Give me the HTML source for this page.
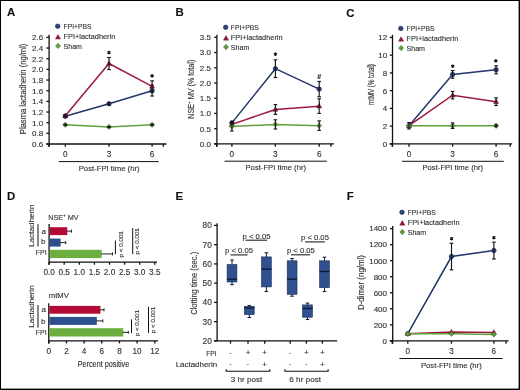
<!DOCTYPE html>
<html><head><meta charset="utf-8"><style>
html,body{margin:0;padding:0;background:#fff;}
svg{display:block;font-family:"Liberation Sans", sans-serif;}

.g{will-change:transform;}
</style></head><body>
<div class="g"><svg width="520" height="390" viewBox="0 0 520 390">
<rect x="0" y="0" width="520" height="390" fill="#fff"/>
<text x="7.00" y="16.30" font-size="11.4" text-anchor="start" font-weight="bold" fill="#111" stroke="#111" stroke-width="0.12" >A</text>
<text x="175.60" y="16.30" font-size="11.4" text-anchor="start" font-weight="bold" fill="#111" stroke="#111" stroke-width="0.12" >B</text>
<text x="346.30" y="16.50" font-size="11.4" text-anchor="start" font-weight="bold" fill="#111" stroke="#111" stroke-width="0.12" >C</text>
<text x="7.00" y="200.20" font-size="11.4" text-anchor="start" font-weight="bold" fill="#111" stroke="#111" stroke-width="0.12" >D</text>
<text x="175.50" y="200.20" font-size="11.4" text-anchor="start" font-weight="bold" fill="#111" stroke="#111" stroke-width="0.12" >E</text>
<text x="346.80" y="200.20" font-size="11.4" text-anchor="start" font-weight="bold" fill="#111" stroke="#111" stroke-width="0.12" >F</text>
<circle cx="57.70" cy="26.20" r="2.25" fill="#2c4584" stroke="#151d3a" stroke-width="0.6"/>
<path d="M58.00 34.44L60.55 39.04L55.45 39.04Z" fill="#9c1638" stroke="#4e0a1c" stroke-width="0.4"/>
<path d="M58.00 43.20L60.50 45.90L58.00 48.60L55.50 45.90Z" fill="#5e9e3a" stroke="#3a6428" stroke-width="0.5"/>
<text x="63.50" y="28.95" font-size="7.6" text-anchor="start" font-weight="normal" fill="#303030" stroke="#303030" stroke-width="0.12" textLength="28.00" lengthAdjust="spacingAndGlyphs" >FPI+PBS</text>
<text x="63.50" y="38.95" font-size="7.6" text-anchor="start" font-weight="normal" fill="#303030" stroke="#303030" stroke-width="0.12" textLength="51.80" lengthAdjust="spacingAndGlyphs" >FPI+lactadherin</text>
<text x="63.50" y="48.95" font-size="7.6" text-anchor="start" font-weight="normal" fill="#303030" stroke="#303030" stroke-width="0.12" textLength="18.50" lengthAdjust="spacingAndGlyphs" >Sham</text>
<line x1="49.10" y1="34.80" x2="49.10" y2="146.80" stroke="#111111" stroke-width="1.3" />
<line x1="46.30" y1="144.00" x2="166.50" y2="144.00" stroke="#111111" stroke-width="1.3" />
<line x1="46.40" y1="144.00" x2="49.10" y2="144.00" stroke="#111111" stroke-width="1.3" />
<text x="43.20" y="146.85" font-size="8.0" text-anchor="end" font-weight="normal" fill="#303030" stroke="#303030" stroke-width="0.12" >0.6</text>
<line x1="46.40" y1="133.34" x2="49.10" y2="133.34" stroke="#111111" stroke-width="1.3" />
<text x="43.20" y="136.19" font-size="8.0" text-anchor="end" font-weight="normal" fill="#303030" stroke="#303030" stroke-width="0.12" >0.8</text>
<line x1="46.40" y1="122.68" x2="49.10" y2="122.68" stroke="#111111" stroke-width="1.3" />
<text x="43.20" y="125.53" font-size="8.0" text-anchor="end" font-weight="normal" fill="#303030" stroke="#303030" stroke-width="0.12" >1.0</text>
<line x1="46.40" y1="112.02" x2="49.10" y2="112.02" stroke="#111111" stroke-width="1.3" />
<text x="43.20" y="114.87" font-size="8.0" text-anchor="end" font-weight="normal" fill="#303030" stroke="#303030" stroke-width="0.12" >1.2</text>
<line x1="46.40" y1="101.36" x2="49.10" y2="101.36" stroke="#111111" stroke-width="1.3" />
<text x="43.20" y="104.21" font-size="8.0" text-anchor="end" font-weight="normal" fill="#303030" stroke="#303030" stroke-width="0.12" >1.4</text>
<line x1="46.40" y1="90.70" x2="49.10" y2="90.70" stroke="#111111" stroke-width="1.3" />
<text x="43.20" y="93.55" font-size="8.0" text-anchor="end" font-weight="normal" fill="#303030" stroke="#303030" stroke-width="0.12" >1.6</text>
<line x1="46.40" y1="80.04" x2="49.10" y2="80.04" stroke="#111111" stroke-width="1.3" />
<text x="43.20" y="82.89" font-size="8.0" text-anchor="end" font-weight="normal" fill="#303030" stroke="#303030" stroke-width="0.12" >1.8</text>
<line x1="46.40" y1="69.38" x2="49.10" y2="69.38" stroke="#111111" stroke-width="1.3" />
<text x="43.20" y="72.23" font-size="8.0" text-anchor="end" font-weight="normal" fill="#303030" stroke="#303030" stroke-width="0.12" >2.0</text>
<line x1="46.40" y1="58.72" x2="49.10" y2="58.72" stroke="#111111" stroke-width="1.3" />
<text x="43.20" y="61.57" font-size="8.0" text-anchor="end" font-weight="normal" fill="#303030" stroke="#303030" stroke-width="0.12" >2.2</text>
<line x1="46.40" y1="48.06" x2="49.10" y2="48.06" stroke="#111111" stroke-width="1.3" />
<text x="43.20" y="50.91" font-size="8.0" text-anchor="end" font-weight="normal" fill="#303030" stroke="#303030" stroke-width="0.12" >2.4</text>
<line x1="46.40" y1="37.40" x2="49.10" y2="37.40" stroke="#111111" stroke-width="1.3" />
<text x="43.20" y="40.25" font-size="8.0" text-anchor="end" font-weight="normal" fill="#303030" stroke="#303030" stroke-width="0.12" >2.6</text>
<line x1="49.00" y1="144.00" x2="49.00" y2="146.80" stroke="#111111" stroke-width="1.3" />
<line x1="65.30" y1="144.00" x2="65.30" y2="146.80" stroke="#111111" stroke-width="1.3" />
<line x1="109.00" y1="144.00" x2="109.00" y2="146.80" stroke="#111111" stroke-width="1.3" />
<line x1="152.10" y1="144.00" x2="152.10" y2="146.80" stroke="#111111" stroke-width="1.3" />
<line x1="163.30" y1="144.00" x2="163.30" y2="146.80" stroke="#111111" stroke-width="1.3" />
<text x="65.30" y="157.10" font-size="8.2" text-anchor="middle" font-weight="normal" fill="#303030" stroke="#303030" stroke-width="0.12" >0</text>
<text x="109.00" y="157.10" font-size="8.2" text-anchor="middle" font-weight="normal" fill="#303030" stroke="#303030" stroke-width="0.12" >3</text>
<text x="152.10" y="157.10" font-size="8.2" text-anchor="middle" font-weight="normal" fill="#303030" stroke="#303030" stroke-width="0.12" >6</text>
<line x1="58.80" y1="161.60" x2="158.70" y2="161.60" stroke="#111111" stroke-width="1.0" />
<text x="78.70" y="170.70" font-size="8.1" text-anchor="start" font-weight="normal" fill="#303030" stroke="#303030" stroke-width="0.12" textLength="60.90" lengthAdjust="spacingAndGlyphs" >Post-FPI time (hr)</text>
<text transform="translate(25.80,88.90) rotate(-90)" x="0" y="0" font-size="8.4" text-anchor="middle" fill="#303030" stroke="#303030" stroke-width="0.12" textLength="90.50" lengthAdjust="spacingAndGlyphs">Plasma lactadherin (ng/ml)</text>
<polyline points="65.30,116.28 109.00,103.76 152.10,90.70" fill="none" stroke="#22366a" stroke-width="1.5"/>
<polyline points="65.30,115.75 109.00,63.52 152.10,86.44" fill="none" stroke="#9a1a3e" stroke-width="1.5"/>
<polyline points="65.30,124.81 109.00,126.94 152.10,124.81" fill="none" stroke="#62a03c" stroke-width="1.5"/>
<circle cx="65.30" cy="116.28" r="2.25" fill="#2c4584" stroke="#151d3a" stroke-width="0.6"/>
<circle cx="109.00" cy="103.76" r="2.25" fill="#2c4584" stroke="#151d3a" stroke-width="0.6"/>
<circle cx="152.10" cy="90.70" r="2.25" fill="#2c4584" stroke="#151d3a" stroke-width="0.6"/>
<line x1="65.30" y1="115.22" x2="65.30" y2="117.35" stroke="#161616" stroke-width="1.15" />
<line x1="63.50" y1="115.22" x2="67.10" y2="115.22" stroke="#161616" stroke-width="1.15" />
<line x1="63.50" y1="117.35" x2="67.10" y2="117.35" stroke="#161616" stroke-width="1.15" />
<line x1="109.00" y1="102.69" x2="109.00" y2="104.82" stroke="#161616" stroke-width="1.15" />
<line x1="107.20" y1="102.69" x2="110.80" y2="102.69" stroke="#161616" stroke-width="1.15" />
<line x1="107.20" y1="104.82" x2="110.80" y2="104.82" stroke="#161616" stroke-width="1.15" />
<line x1="152.10" y1="85.37" x2="152.10" y2="96.03" stroke="#161616" stroke-width="1.15" />
<line x1="150.30" y1="85.37" x2="153.90" y2="85.37" stroke="#161616" stroke-width="1.15" />
<line x1="150.30" y1="96.03" x2="153.90" y2="96.03" stroke="#161616" stroke-width="1.15" />
<path d="M65.30 112.99L67.85 117.59L62.75 117.59Z" fill="#9c1638" stroke="#4e0a1c" stroke-width="0.4"/>
<path d="M109.00 60.76L111.55 65.36L106.45 65.36Z" fill="#9c1638" stroke="#4e0a1c" stroke-width="0.4"/>
<path d="M152.10 83.68L154.65 88.28L149.55 88.28Z" fill="#9c1638" stroke="#4e0a1c" stroke-width="0.4"/>
<line x1="65.30" y1="114.69" x2="65.30" y2="116.82" stroke="#161616" stroke-width="1.15" />
<line x1="63.50" y1="114.69" x2="67.10" y2="114.69" stroke="#161616" stroke-width="1.15" />
<line x1="63.50" y1="116.82" x2="67.10" y2="116.82" stroke="#161616" stroke-width="1.15" />
<line x1="109.00" y1="57.49" x2="109.00" y2="69.54" stroke="#161616" stroke-width="1.15" />
<line x1="107.20" y1="57.49" x2="110.80" y2="57.49" stroke="#161616" stroke-width="1.15" />
<line x1="107.20" y1="69.54" x2="110.80" y2="69.54" stroke="#161616" stroke-width="1.15" />
<line x1="152.10" y1="80.84" x2="152.10" y2="92.03" stroke="#161616" stroke-width="1.15" />
<line x1="150.30" y1="80.84" x2="153.90" y2="80.84" stroke="#161616" stroke-width="1.15" />
<line x1="150.30" y1="92.03" x2="153.90" y2="92.03" stroke="#161616" stroke-width="1.15" />
<path d="M65.30 122.11L67.80 124.81L65.30 127.51L62.80 124.81Z" fill="#5e9e3a" stroke="#3a6428" stroke-width="0.5"/>
<path d="M109.00 124.24L111.50 126.94L109.00 129.64L106.50 126.94Z" fill="#5e9e3a" stroke="#3a6428" stroke-width="0.5"/>
<path d="M152.10 122.11L154.60 124.81L152.10 127.51L149.60 124.81Z" fill="#5e9e3a" stroke="#3a6428" stroke-width="0.5"/>
<line x1="65.30" y1="124.28" x2="65.30" y2="125.34" stroke="#161616" stroke-width="1.15" />
<line x1="63.50" y1="124.28" x2="67.10" y2="124.28" stroke="#161616" stroke-width="1.15" />
<line x1="63.50" y1="125.34" x2="67.10" y2="125.34" stroke="#161616" stroke-width="1.15" />
<line x1="109.00" y1="126.41" x2="109.00" y2="127.48" stroke="#161616" stroke-width="1.15" />
<line x1="107.20" y1="126.41" x2="110.80" y2="126.41" stroke="#161616" stroke-width="1.15" />
<line x1="107.20" y1="127.48" x2="110.80" y2="127.48" stroke="#161616" stroke-width="1.15" />
<line x1="152.10" y1="124.28" x2="152.10" y2="125.34" stroke="#161616" stroke-width="1.15" />
<line x1="150.30" y1="124.28" x2="153.90" y2="124.28" stroke="#161616" stroke-width="1.15" />
<line x1="150.30" y1="125.34" x2="153.90" y2="125.34" stroke="#161616" stroke-width="1.15" />
<path d="M109.00 50.70L109.00 54.30M110.56 51.60L107.44 53.40M110.56 53.40L107.44 51.60" stroke="#151515" stroke-width="1.15" fill="none"/>
<path d="M152.10 74.10L152.10 77.70M153.66 75.00L150.54 76.80M153.66 76.80L150.54 75.00" stroke="#151515" stroke-width="1.15" fill="none"/>
<circle cx="225.70" cy="27.30" r="2.25" fill="#2c4584" stroke="#151d3a" stroke-width="0.6"/>
<path d="M226.00 35.54L228.55 40.14L223.45 40.14Z" fill="#9c1638" stroke="#4e0a1c" stroke-width="0.4"/>
<path d="M226.00 44.30L228.50 47.00L226.00 49.70L223.50 47.00Z" fill="#5e9e3a" stroke="#3a6428" stroke-width="0.5"/>
<text x="230.80" y="30.05" font-size="7.6" text-anchor="start" font-weight="normal" fill="#303030" stroke="#303030" stroke-width="0.12" textLength="28.00" lengthAdjust="spacingAndGlyphs" >FPI+PBS</text>
<text x="230.80" y="40.05" font-size="7.6" text-anchor="start" font-weight="normal" fill="#303030" stroke="#303030" stroke-width="0.12" textLength="51.80" lengthAdjust="spacingAndGlyphs" >FPI+lactadherin</text>
<text x="230.80" y="50.05" font-size="7.6" text-anchor="start" font-weight="normal" fill="#303030" stroke="#303030" stroke-width="0.12" textLength="18.50" lengthAdjust="spacingAndGlyphs" >Sham</text>
<line x1="216.90" y1="34.70" x2="216.90" y2="146.70" stroke="#111111" stroke-width="1.3" />
<line x1="214.10" y1="143.90" x2="333.90" y2="143.90" stroke="#111111" stroke-width="1.3" />
<line x1="214.20" y1="143.90" x2="216.90" y2="143.90" stroke="#111111" stroke-width="1.3" />
<text x="210.90" y="146.75" font-size="8.0" text-anchor="end" font-weight="normal" fill="#303030" stroke="#303030" stroke-width="0.12" >0.0</text>
<line x1="214.20" y1="128.67" x2="216.90" y2="128.67" stroke="#111111" stroke-width="1.3" />
<text x="210.90" y="131.52" font-size="8.0" text-anchor="end" font-weight="normal" fill="#303030" stroke="#303030" stroke-width="0.12" >0.5</text>
<line x1="214.20" y1="113.44" x2="216.90" y2="113.44" stroke="#111111" stroke-width="1.3" />
<text x="210.90" y="116.29" font-size="8.0" text-anchor="end" font-weight="normal" fill="#303030" stroke="#303030" stroke-width="0.12" >1.0</text>
<line x1="214.20" y1="98.21" x2="216.90" y2="98.21" stroke="#111111" stroke-width="1.3" />
<text x="210.90" y="101.06" font-size="8.0" text-anchor="end" font-weight="normal" fill="#303030" stroke="#303030" stroke-width="0.12" >1.5</text>
<line x1="214.20" y1="82.99" x2="216.90" y2="82.99" stroke="#111111" stroke-width="1.3" />
<text x="210.90" y="85.84" font-size="8.0" text-anchor="end" font-weight="normal" fill="#303030" stroke="#303030" stroke-width="0.12" >2.0</text>
<line x1="214.20" y1="67.76" x2="216.90" y2="67.76" stroke="#111111" stroke-width="1.3" />
<text x="210.90" y="70.61" font-size="8.0" text-anchor="end" font-weight="normal" fill="#303030" stroke="#303030" stroke-width="0.12" >2.5</text>
<line x1="214.20" y1="52.53" x2="216.90" y2="52.53" stroke="#111111" stroke-width="1.3" />
<text x="210.90" y="55.38" font-size="8.0" text-anchor="end" font-weight="normal" fill="#303030" stroke="#303030" stroke-width="0.12" >3.0</text>
<line x1="214.20" y1="37.30" x2="216.90" y2="37.30" stroke="#111111" stroke-width="1.3" />
<text x="210.90" y="40.15" font-size="8.0" text-anchor="end" font-weight="normal" fill="#303030" stroke="#303030" stroke-width="0.12" >3.5</text>
<line x1="216.80" y1="143.90" x2="216.80" y2="146.70" stroke="#111111" stroke-width="1.3" />
<line x1="231.90" y1="143.90" x2="231.90" y2="146.70" stroke="#111111" stroke-width="1.3" />
<line x1="275.40" y1="143.90" x2="275.40" y2="146.70" stroke="#111111" stroke-width="1.3" />
<line x1="319.20" y1="143.90" x2="319.20" y2="146.70" stroke="#111111" stroke-width="1.3" />
<line x1="331.00" y1="143.90" x2="331.00" y2="146.70" stroke="#111111" stroke-width="1.3" />
<text x="231.90" y="157.00" font-size="8.2" text-anchor="middle" font-weight="normal" fill="#303030" stroke="#303030" stroke-width="0.12" >0</text>
<text x="275.40" y="157.00" font-size="8.2" text-anchor="middle" font-weight="normal" fill="#303030" stroke="#303030" stroke-width="0.12" >3</text>
<text x="319.20" y="157.00" font-size="8.2" text-anchor="middle" font-weight="normal" fill="#303030" stroke="#303030" stroke-width="0.12" >6</text>
<line x1="224.50" y1="161.20" x2="326.90" y2="161.20" stroke="#111111" stroke-width="1.0" />
<text x="245.50" y="170.30" font-size="8.1" text-anchor="start" font-weight="normal" fill="#303030" stroke="#303030" stroke-width="0.12" textLength="60.50" lengthAdjust="spacingAndGlyphs" >Post-FPI time (hr)</text>
<text transform="translate(193.90,89.20) rotate(-90)" x="0" y="0" font-size="8.5" text-anchor="middle" fill="#303030" stroke="#303030" stroke-width="0.12" textLength="59.00" lengthAdjust="spacingAndGlyphs">NSE<tspan font-size="5.5" dy="-2.7">+</tspan><tspan dy="2.7"> MV (% total)</tspan></text>
<polyline points="231.90,122.88 275.40,68.67 319.20,89.08" fill="none" stroke="#22366a" stroke-width="1.5"/>
<polyline points="231.90,124.41 275.40,109.48 319.20,106.13" fill="none" stroke="#9a1a3e" stroke-width="1.5"/>
<polyline points="231.90,126.54 275.40,124.41 319.20,125.63" fill="none" stroke="#62a03c" stroke-width="1.5"/>
<circle cx="231.90" cy="122.88" r="2.25" fill="#2c4584" stroke="#151d3a" stroke-width="0.6"/>
<circle cx="275.40" cy="68.67" r="2.25" fill="#2c4584" stroke="#151d3a" stroke-width="0.6"/>
<circle cx="319.20" cy="89.08" r="2.25" fill="#2c4584" stroke="#151d3a" stroke-width="0.6"/>
<line x1="231.90" y1="121.36" x2="231.90" y2="124.41" stroke="#161616" stroke-width="1.15" />
<line x1="230.10" y1="121.36" x2="233.70" y2="121.36" stroke="#161616" stroke-width="1.15" />
<line x1="230.10" y1="124.41" x2="233.70" y2="124.41" stroke="#161616" stroke-width="1.15" />
<line x1="275.40" y1="59.84" x2="275.40" y2="77.50" stroke="#161616" stroke-width="1.15" />
<line x1="273.60" y1="59.84" x2="277.20" y2="59.84" stroke="#161616" stroke-width="1.15" />
<line x1="273.60" y1="77.50" x2="277.20" y2="77.50" stroke="#161616" stroke-width="1.15" />
<line x1="319.20" y1="81.46" x2="319.20" y2="96.69" stroke="#161616" stroke-width="1.15" />
<line x1="317.40" y1="81.46" x2="321.00" y2="81.46" stroke="#161616" stroke-width="1.15" />
<line x1="317.40" y1="96.69" x2="321.00" y2="96.69" stroke="#161616" stroke-width="1.15" />
<path d="M231.90 121.65L234.45 126.25L229.35 126.25Z" fill="#9c1638" stroke="#4e0a1c" stroke-width="0.4"/>
<path d="M275.40 106.72L277.95 111.32L272.85 111.32Z" fill="#9c1638" stroke="#4e0a1c" stroke-width="0.4"/>
<path d="M319.20 103.37L321.75 107.97L316.65 107.97Z" fill="#9c1638" stroke="#4e0a1c" stroke-width="0.4"/>
<line x1="231.90" y1="122.88" x2="231.90" y2="125.93" stroke="#161616" stroke-width="1.15" />
<line x1="230.10" y1="122.88" x2="233.70" y2="122.88" stroke="#161616" stroke-width="1.15" />
<line x1="230.10" y1="125.93" x2="233.70" y2="125.93" stroke="#161616" stroke-width="1.15" />
<line x1="275.40" y1="104.61" x2="275.40" y2="114.36" stroke="#161616" stroke-width="1.15" />
<line x1="273.60" y1="104.61" x2="277.20" y2="104.61" stroke="#161616" stroke-width="1.15" />
<line x1="273.60" y1="114.36" x2="277.20" y2="114.36" stroke="#161616" stroke-width="1.15" />
<line x1="319.20" y1="98.82" x2="319.20" y2="113.44" stroke="#161616" stroke-width="1.15" />
<line x1="317.40" y1="98.82" x2="321.00" y2="98.82" stroke="#161616" stroke-width="1.15" />
<line x1="317.40" y1="113.44" x2="321.00" y2="113.44" stroke="#161616" stroke-width="1.15" />
<path d="M231.90 123.84L234.40 126.54L231.90 129.24L229.40 126.54Z" fill="#5e9e3a" stroke="#3a6428" stroke-width="0.5"/>
<path d="M275.40 121.71L277.90 124.41L275.40 127.11L272.90 124.41Z" fill="#5e9e3a" stroke="#3a6428" stroke-width="0.5"/>
<path d="M319.20 122.93L321.70 125.63L319.20 128.33L316.70 125.63Z" fill="#5e9e3a" stroke="#3a6428" stroke-width="0.5"/>
<line x1="231.90" y1="122.06" x2="231.90" y2="131.02" stroke="#161616" stroke-width="1.15" />
<line x1="230.10" y1="122.06" x2="233.70" y2="122.06" stroke="#161616" stroke-width="1.15" />
<line x1="230.10" y1="131.02" x2="233.70" y2="131.02" stroke="#161616" stroke-width="1.15" />
<line x1="275.40" y1="119.84" x2="275.40" y2="128.98" stroke="#161616" stroke-width="1.15" />
<line x1="273.60" y1="119.84" x2="277.20" y2="119.84" stroke="#161616" stroke-width="1.15" />
<line x1="273.60" y1="128.98" x2="277.20" y2="128.98" stroke="#161616" stroke-width="1.15" />
<line x1="319.20" y1="120.90" x2="319.20" y2="130.35" stroke="#161616" stroke-width="1.15" />
<line x1="317.40" y1="120.90" x2="321.00" y2="120.90" stroke="#161616" stroke-width="1.15" />
<line x1="317.40" y1="130.35" x2="321.00" y2="130.35" stroke="#161616" stroke-width="1.15" />
<path d="M275.40 52.40L275.40 56.00M276.96 53.30L273.84 55.10M276.96 55.10L273.84 53.30" stroke="#151515" stroke-width="1.15" fill="none"/>
<text x="319.20" y="78.60" font-size="7" text-anchor="middle" font-weight="bold" fill="#222" stroke="#222" stroke-width="0.12" >#</text>
<circle cx="400.80" cy="28.40" r="2.25" fill="#2c4584" stroke="#151d3a" stroke-width="0.6"/>
<path d="M401.10 36.64L403.65 41.24L398.55 41.24Z" fill="#9c1638" stroke="#4e0a1c" stroke-width="0.4"/>
<path d="M401.10 45.40L403.60 48.10L401.10 50.80L398.60 48.10Z" fill="#5e9e3a" stroke="#3a6428" stroke-width="0.5"/>
<text x="406.50" y="31.15" font-size="7.6" text-anchor="start" font-weight="normal" fill="#303030" stroke="#303030" stroke-width="0.12" textLength="28.00" lengthAdjust="spacingAndGlyphs" >FPI+PBS</text>
<text x="406.50" y="41.15" font-size="7.6" text-anchor="start" font-weight="normal" fill="#303030" stroke="#303030" stroke-width="0.12" textLength="51.80" lengthAdjust="spacingAndGlyphs" >FPI+lactadherin</text>
<text x="406.50" y="51.15" font-size="7.6" text-anchor="start" font-weight="normal" fill="#303030" stroke="#303030" stroke-width="0.12" textLength="18.50" lengthAdjust="spacingAndGlyphs" >Sham</text>
<line x1="392.50" y1="34.80" x2="392.50" y2="146.70" stroke="#111111" stroke-width="1.3" />
<line x1="389.60" y1="143.90" x2="512.20" y2="143.90" stroke="#111111" stroke-width="1.3" />
<line x1="389.80" y1="143.90" x2="392.50" y2="143.90" stroke="#111111" stroke-width="1.3" />
<text x="387.20" y="146.75" font-size="8.0" text-anchor="end" font-weight="normal" fill="#303030" stroke="#303030" stroke-width="0.12" >0</text>
<line x1="389.80" y1="126.15" x2="392.50" y2="126.15" stroke="#111111" stroke-width="1.3" />
<text x="387.20" y="129.00" font-size="8.0" text-anchor="end" font-weight="normal" fill="#303030" stroke="#303030" stroke-width="0.12" >2</text>
<line x1="389.80" y1="108.40" x2="392.50" y2="108.40" stroke="#111111" stroke-width="1.3" />
<text x="387.20" y="111.25" font-size="8.0" text-anchor="end" font-weight="normal" fill="#303030" stroke="#303030" stroke-width="0.12" >4</text>
<line x1="389.80" y1="90.65" x2="392.50" y2="90.65" stroke="#111111" stroke-width="1.3" />
<text x="387.20" y="93.50" font-size="8.0" text-anchor="end" font-weight="normal" fill="#303030" stroke="#303030" stroke-width="0.12" >6</text>
<line x1="389.80" y1="72.90" x2="392.50" y2="72.90" stroke="#111111" stroke-width="1.3" />
<text x="387.20" y="75.75" font-size="8.0" text-anchor="end" font-weight="normal" fill="#303030" stroke="#303030" stroke-width="0.12" >8</text>
<line x1="389.80" y1="55.15" x2="392.50" y2="55.15" stroke="#111111" stroke-width="1.3" />
<text x="387.20" y="58.00" font-size="8.0" text-anchor="end" font-weight="normal" fill="#303030" stroke="#303030" stroke-width="0.12" >10</text>
<line x1="389.80" y1="37.40" x2="392.50" y2="37.40" stroke="#111111" stroke-width="1.3" />
<text x="387.20" y="40.25" font-size="8.0" text-anchor="end" font-weight="normal" fill="#303030" stroke="#303030" stroke-width="0.12" >12</text>
<line x1="392.30" y1="143.90" x2="392.30" y2="146.70" stroke="#111111" stroke-width="1.3" />
<line x1="409.00" y1="143.90" x2="409.00" y2="146.70" stroke="#111111" stroke-width="1.3" />
<line x1="452.60" y1="143.90" x2="452.60" y2="146.70" stroke="#111111" stroke-width="1.3" />
<line x1="496.10" y1="143.90" x2="496.10" y2="146.70" stroke="#111111" stroke-width="1.3" />
<line x1="510.20" y1="143.90" x2="510.20" y2="146.70" stroke="#111111" stroke-width="1.3" />
<text x="409.00" y="157.00" font-size="8.2" text-anchor="middle" font-weight="normal" fill="#303030" stroke="#303030" stroke-width="0.12" >0</text>
<text x="452.60" y="157.00" font-size="8.2" text-anchor="middle" font-weight="normal" fill="#303030" stroke="#303030" stroke-width="0.12" >3</text>
<text x="496.10" y="157.00" font-size="8.2" text-anchor="middle" font-weight="normal" fill="#303030" stroke="#303030" stroke-width="0.12" >6</text>
<line x1="402.00" y1="161.30" x2="503.80" y2="161.30" stroke="#111111" stroke-width="1.0" />
<text x="422.40" y="170.40" font-size="8.1" text-anchor="start" font-weight="normal" fill="#303030" stroke="#303030" stroke-width="0.12" textLength="60.80" lengthAdjust="spacingAndGlyphs" >Post-FPI time (hr)</text>
<text transform="translate(374.40,84.60) rotate(-90)" x="0" y="0" font-size="8.4" text-anchor="middle" fill="#303030" stroke="#303030" stroke-width="0.12" textLength="40.80" lengthAdjust="spacingAndGlyphs">mtMV (% total)</text>
<polyline points="409.00,125.71 452.60,74.41 496.10,69.79" fill="none" stroke="#22366a" stroke-width="1.5"/>
<polyline points="409.00,125.71 452.60,95.18 496.10,101.66" fill="none" stroke="#9a1a3e" stroke-width="1.5"/>
<polyline points="409.00,125.71 452.60,125.71 496.10,125.71" fill="none" stroke="#62a03c" stroke-width="1.5"/>
<circle cx="409.00" cy="125.71" r="2.25" fill="#2c4584" stroke="#151d3a" stroke-width="0.6"/>
<circle cx="452.60" cy="74.41" r="2.25" fill="#2c4584" stroke="#151d3a" stroke-width="0.6"/>
<circle cx="496.10" cy="69.79" r="2.25" fill="#2c4584" stroke="#151d3a" stroke-width="0.6"/>
<line x1="409.00" y1="125.26" x2="409.00" y2="126.15" stroke="#161616" stroke-width="1.15" />
<line x1="407.20" y1="125.26" x2="410.80" y2="125.26" stroke="#161616" stroke-width="1.15" />
<line x1="407.20" y1="126.15" x2="410.80" y2="126.15" stroke="#161616" stroke-width="1.15" />
<line x1="452.60" y1="70.59" x2="452.60" y2="78.23" stroke="#161616" stroke-width="1.15" />
<line x1="450.80" y1="70.59" x2="454.40" y2="70.59" stroke="#161616" stroke-width="1.15" />
<line x1="450.80" y1="78.23" x2="454.40" y2="78.23" stroke="#161616" stroke-width="1.15" />
<line x1="496.10" y1="65.80" x2="496.10" y2="73.79" stroke="#161616" stroke-width="1.15" />
<line x1="494.30" y1="65.80" x2="497.90" y2="65.80" stroke="#161616" stroke-width="1.15" />
<line x1="494.30" y1="73.79" x2="497.90" y2="73.79" stroke="#161616" stroke-width="1.15" />
<path d="M409.00 122.95L411.55 127.55L406.45 127.55Z" fill="#9c1638" stroke="#4e0a1c" stroke-width="0.4"/>
<path d="M452.60 92.42L455.15 97.02L450.05 97.02Z" fill="#9c1638" stroke="#4e0a1c" stroke-width="0.4"/>
<path d="M496.10 98.89L498.65 103.50L493.55 103.50Z" fill="#9c1638" stroke="#4e0a1c" stroke-width="0.4"/>
<line x1="409.00" y1="125.26" x2="409.00" y2="126.15" stroke="#161616" stroke-width="1.15" />
<line x1="407.20" y1="125.26" x2="410.80" y2="125.26" stroke="#161616" stroke-width="1.15" />
<line x1="407.20" y1="126.15" x2="410.80" y2="126.15" stroke="#161616" stroke-width="1.15" />
<line x1="452.60" y1="91.45" x2="452.60" y2="98.90" stroke="#161616" stroke-width="1.15" />
<line x1="450.80" y1="91.45" x2="454.40" y2="91.45" stroke="#161616" stroke-width="1.15" />
<line x1="450.80" y1="98.90" x2="454.40" y2="98.90" stroke="#161616" stroke-width="1.15" />
<line x1="496.10" y1="97.84" x2="496.10" y2="105.47" stroke="#161616" stroke-width="1.15" />
<line x1="494.30" y1="97.84" x2="497.90" y2="97.84" stroke="#161616" stroke-width="1.15" />
<line x1="494.30" y1="105.47" x2="497.90" y2="105.47" stroke="#161616" stroke-width="1.15" />
<path d="M409.00 123.01L411.50 125.71L409.00 128.41L406.50 125.71Z" fill="#5e9e3a" stroke="#3a6428" stroke-width="0.5"/>
<path d="M452.60 123.01L455.10 125.71L452.60 128.41L450.10 125.71Z" fill="#5e9e3a" stroke="#3a6428" stroke-width="0.5"/>
<path d="M496.10 123.01L498.60 125.71L496.10 128.41L493.60 125.71Z" fill="#5e9e3a" stroke="#3a6428" stroke-width="0.5"/>
<line x1="409.00" y1="122.51" x2="409.00" y2="128.90" stroke="#161616" stroke-width="1.15" />
<line x1="407.20" y1="122.51" x2="410.80" y2="122.51" stroke="#161616" stroke-width="1.15" />
<line x1="407.20" y1="128.90" x2="410.80" y2="128.90" stroke="#161616" stroke-width="1.15" />
<line x1="452.60" y1="122.96" x2="452.60" y2="128.46" stroke="#161616" stroke-width="1.15" />
<line x1="450.80" y1="122.96" x2="454.40" y2="122.96" stroke="#161616" stroke-width="1.15" />
<line x1="450.80" y1="128.46" x2="454.40" y2="128.46" stroke="#161616" stroke-width="1.15" />
<line x1="496.10" y1="124.82" x2="496.10" y2="126.59" stroke="#161616" stroke-width="1.15" />
<line x1="494.30" y1="124.82" x2="497.90" y2="124.82" stroke="#161616" stroke-width="1.15" />
<line x1="494.30" y1="126.59" x2="497.90" y2="126.59" stroke="#161616" stroke-width="1.15" />
<path d="M452.70 64.40L452.70 68.00M454.26 65.30L451.14 67.10M454.26 67.10L451.14 65.30" stroke="#151515" stroke-width="1.15" fill="none"/>
<path d="M495.80 59.00L495.80 62.60M497.36 59.90L494.24 61.70M497.36 61.70L494.24 59.90" stroke="#151515" stroke-width="1.15" fill="none"/>
<circle cx="402.00" cy="212.30" r="2.25" fill="#2c4584" stroke="#151d3a" stroke-width="0.6"/>
<path d="M402.30 220.54L404.85 225.14L399.75 225.14Z" fill="#9c1638" stroke="#4e0a1c" stroke-width="0.4"/>
<path d="M402.30 229.30L404.80 232.00L402.30 234.70L399.80 232.00Z" fill="#5e9e3a" stroke="#3a6428" stroke-width="0.5"/>
<text x="407.70" y="215.05" font-size="7.6" text-anchor="start" font-weight="normal" fill="#303030" stroke="#303030" stroke-width="0.12" textLength="28.00" lengthAdjust="spacingAndGlyphs" >FPI+PBS</text>
<text x="407.70" y="225.05" font-size="7.6" text-anchor="start" font-weight="normal" fill="#303030" stroke="#303030" stroke-width="0.12" textLength="51.80" lengthAdjust="spacingAndGlyphs" >FPI+lactadherin</text>
<text x="407.70" y="235.05" font-size="7.6" text-anchor="start" font-weight="normal" fill="#303030" stroke="#303030" stroke-width="0.12" textLength="18.50" lengthAdjust="spacingAndGlyphs" >Sham</text>
<line x1="392.70" y1="226.00" x2="392.70" y2="343.70" stroke="#111111" stroke-width="1.3" />
<line x1="389.60" y1="340.90" x2="508.70" y2="340.90" stroke="#111111" stroke-width="1.3" />
<line x1="390.00" y1="340.90" x2="392.70" y2="340.90" stroke="#111111" stroke-width="1.3" />
<text x="387.00" y="343.75" font-size="8.0" text-anchor="end" font-weight="normal" fill="#303030" stroke="#303030" stroke-width="0.12" >0</text>
<line x1="390.00" y1="324.86" x2="392.70" y2="324.86" stroke="#111111" stroke-width="1.3" />
<text x="387.00" y="327.71" font-size="8.0" text-anchor="end" font-weight="normal" fill="#303030" stroke="#303030" stroke-width="0.12" >200</text>
<line x1="390.00" y1="308.81" x2="392.70" y2="308.81" stroke="#111111" stroke-width="1.3" />
<text x="387.00" y="311.66" font-size="8.0" text-anchor="end" font-weight="normal" fill="#303030" stroke="#303030" stroke-width="0.12" >400</text>
<line x1="390.00" y1="292.77" x2="392.70" y2="292.77" stroke="#111111" stroke-width="1.3" />
<text x="387.00" y="295.62" font-size="8.0" text-anchor="end" font-weight="normal" fill="#303030" stroke="#303030" stroke-width="0.12" >600</text>
<line x1="390.00" y1="276.73" x2="392.70" y2="276.73" stroke="#111111" stroke-width="1.3" />
<text x="387.00" y="279.58" font-size="8.0" text-anchor="end" font-weight="normal" fill="#303030" stroke="#303030" stroke-width="0.12" >800</text>
<line x1="390.00" y1="260.69" x2="392.70" y2="260.69" stroke="#111111" stroke-width="1.3" />
<text x="387.00" y="263.54" font-size="8.0" text-anchor="end" font-weight="normal" fill="#303030" stroke="#303030" stroke-width="0.12" >1000</text>
<line x1="390.00" y1="244.64" x2="392.70" y2="244.64" stroke="#111111" stroke-width="1.3" />
<text x="387.00" y="247.49" font-size="8.0" text-anchor="end" font-weight="normal" fill="#303030" stroke="#303030" stroke-width="0.12" >1200</text>
<line x1="390.00" y1="228.60" x2="392.70" y2="228.60" stroke="#111111" stroke-width="1.3" />
<text x="387.00" y="231.45" font-size="8.0" text-anchor="end" font-weight="normal" fill="#303030" stroke="#303030" stroke-width="0.12" >1400</text>
<line x1="392.20" y1="340.90" x2="392.20" y2="343.70" stroke="#111111" stroke-width="1.3" />
<line x1="407.80" y1="340.90" x2="407.80" y2="343.70" stroke="#111111" stroke-width="1.3" />
<line x1="451.40" y1="340.90" x2="451.40" y2="343.70" stroke="#111111" stroke-width="1.3" />
<line x1="493.90" y1="340.90" x2="493.90" y2="343.70" stroke="#111111" stroke-width="1.3" />
<line x1="506.00" y1="340.90" x2="506.00" y2="343.70" stroke="#111111" stroke-width="1.3" />
<text x="407.80" y="354.00" font-size="8.2" text-anchor="middle" font-weight="normal" fill="#303030" stroke="#303030" stroke-width="0.12" >0</text>
<text x="451.50" y="354.00" font-size="8.2" text-anchor="middle" font-weight="normal" fill="#303030" stroke="#303030" stroke-width="0.12" >3</text>
<text x="493.90" y="354.00" font-size="8.2" text-anchor="middle" font-weight="normal" fill="#303030" stroke="#303030" stroke-width="0.12" >6</text>
<line x1="399.40" y1="358.50" x2="502.50" y2="358.50" stroke="#111111" stroke-width="1.0" />
<text x="420.90" y="367.60" font-size="8.1" text-anchor="start" font-weight="normal" fill="#303030" stroke="#303030" stroke-width="0.12" textLength="60.90" lengthAdjust="spacingAndGlyphs" >Post-FPI time (hr)</text>
<text transform="translate(363.70,282.50) rotate(-90)" x="0" y="0" font-size="8.3" text-anchor="middle" fill="#303030" stroke="#303030" stroke-width="0.12" textLength="55.00" lengthAdjust="spacingAndGlyphs">D-dimer (ng/ml)</text>
<polyline points="407.80,333.68 451.50,256.51 493.90,250.58" fill="none" stroke="#22366a" stroke-width="1.5"/>
<polyline points="407.80,333.68 451.50,332.08 493.90,332.48" fill="none" stroke="#9a1a3e" stroke-width="1.5"/>
<polyline points="407.80,333.68 451.50,333.68 493.90,334.48" fill="none" stroke="#62a03c" stroke-width="1.5"/>
<circle cx="407.80" cy="333.68" r="2.25" fill="#2c4584" stroke="#151d3a" stroke-width="0.6"/>
<circle cx="451.50" cy="256.51" r="2.25" fill="#2c4584" stroke="#151d3a" stroke-width="0.6"/>
<circle cx="493.90" cy="250.58" r="2.25" fill="#2c4584" stroke="#151d3a" stroke-width="0.6"/>
<line x1="451.50" y1="243.20" x2="451.50" y2="269.83" stroke="#161616" stroke-width="1.15" />
<line x1="449.70" y1="243.20" x2="453.30" y2="243.20" stroke="#161616" stroke-width="1.15" />
<line x1="449.70" y1="269.83" x2="453.30" y2="269.83" stroke="#161616" stroke-width="1.15" />
<line x1="493.90" y1="242.16" x2="493.90" y2="259.00" stroke="#161616" stroke-width="1.15" />
<line x1="492.10" y1="242.16" x2="495.70" y2="242.16" stroke="#161616" stroke-width="1.15" />
<line x1="492.10" y1="259.00" x2="495.70" y2="259.00" stroke="#161616" stroke-width="1.15" />
<path d="M407.80 330.92L410.35 335.52L405.25 335.52Z" fill="#9c1638" stroke="#4e0a1c" stroke-width="0.4"/>
<path d="M451.50 329.32L454.05 333.92L448.95 333.92Z" fill="#9c1638" stroke="#4e0a1c" stroke-width="0.4"/>
<path d="M493.90 329.72L496.45 334.32L491.35 334.32Z" fill="#9c1638" stroke="#4e0a1c" stroke-width="0.4"/>
<path d="M407.80 330.98L410.30 333.68L407.80 336.38L405.30 333.68Z" fill="#5e9e3a" stroke="#3a6428" stroke-width="0.5"/>
<path d="M451.50 330.98L454.00 333.68L451.50 336.38L449.00 333.68Z" fill="#5e9e3a" stroke="#3a6428" stroke-width="0.5"/>
<path d="M493.90 331.78L496.40 334.48L493.90 337.18L491.40 334.48Z" fill="#5e9e3a" stroke="#3a6428" stroke-width="0.5"/>
<path d="M451.60 236.90L451.60 240.50M453.16 237.80L450.04 239.60M453.16 239.60L450.04 237.80" stroke="#151515" stroke-width="1.15" fill="none"/>
<path d="M493.90 235.90L493.90 239.50M495.46 236.80L492.34 238.60M495.46 238.60L492.34 236.80" stroke="#151515" stroke-width="1.15" fill="none"/>
<line x1="49.10" y1="224.00" x2="49.10" y2="264.70" stroke="#111111" stroke-width="1.3" />
<line x1="49.10" y1="262.10" x2="157.00" y2="262.10" stroke="#111111" stroke-width="1.3" />
<line x1="49.10" y1="262.10" x2="49.10" y2="264.70" stroke="#111111" stroke-width="1.3" />
<text x="49.10" y="275.00" font-size="8.2" text-anchor="middle" font-weight="normal" fill="#303030" stroke="#303030" stroke-width="0.12" >0.0</text>
<line x1="64.20" y1="262.10" x2="64.20" y2="264.70" stroke="#111111" stroke-width="1.3" />
<text x="64.20" y="275.00" font-size="8.2" text-anchor="middle" font-weight="normal" fill="#303030" stroke="#303030" stroke-width="0.12" >0.5</text>
<line x1="79.30" y1="262.10" x2="79.30" y2="264.70" stroke="#111111" stroke-width="1.3" />
<text x="79.30" y="275.00" font-size="8.2" text-anchor="middle" font-weight="normal" fill="#303030" stroke="#303030" stroke-width="0.12" >1.0</text>
<line x1="94.40" y1="262.10" x2="94.40" y2="264.70" stroke="#111111" stroke-width="1.3" />
<text x="94.40" y="275.00" font-size="8.2" text-anchor="middle" font-weight="normal" fill="#303030" stroke="#303030" stroke-width="0.12" >1.5</text>
<line x1="109.50" y1="262.10" x2="109.50" y2="264.70" stroke="#111111" stroke-width="1.3" />
<text x="109.50" y="275.00" font-size="8.2" text-anchor="middle" font-weight="normal" fill="#303030" stroke="#303030" stroke-width="0.12" >2.0</text>
<line x1="124.60" y1="262.10" x2="124.60" y2="264.70" stroke="#111111" stroke-width="1.3" />
<text x="124.60" y="275.00" font-size="8.2" text-anchor="middle" font-weight="normal" fill="#303030" stroke="#303030" stroke-width="0.12" >2.5</text>
<line x1="139.70" y1="262.10" x2="139.70" y2="264.70" stroke="#111111" stroke-width="1.3" />
<text x="139.70" y="275.00" font-size="8.2" text-anchor="middle" font-weight="normal" fill="#303030" stroke="#303030" stroke-width="0.12" >3.0</text>
<line x1="154.80" y1="262.10" x2="154.80" y2="264.70" stroke="#111111" stroke-width="1.3" />
<text x="154.80" y="275.00" font-size="8.2" text-anchor="middle" font-weight="normal" fill="#303030" stroke="#303030" stroke-width="0.12" >3.5</text>
<text x="48.30" y="219.90" font-size="7.5" text-anchor="start" font-weight="normal" fill="#303030" stroke="#303030" stroke-width="0.12" textLength="30.20" lengthAdjust="spacingAndGlyphs" >NSE<tspan font-size="4.5" dy="-2.6">+</tspan><tspan dy="2.6"> MV</tspan></text>
<text transform="translate(34.40,225.75) rotate(-90)" x="0" y="0" font-size="7.4" text-anchor="middle" fill="#303030" stroke="#303030" stroke-width="0.12" textLength="42.30" lengthAdjust="spacingAndGlyphs">Lactadherin</text>
<line x1="38.00" y1="224.20" x2="38.00" y2="246.50" stroke="#111111" stroke-width="1.0" />
<text x="41.50" y="233.80" font-size="8.1" text-anchor="start" font-weight="normal" fill="#303030" stroke="#303030" stroke-width="0.12" >a</text>
<text x="41.00" y="244.40" font-size="8.1" text-anchor="start" font-weight="normal" fill="#303030" stroke="#303030" stroke-width="0.12" >b</text>
<text x="46.60" y="255.40" font-size="8.1" text-anchor="end" font-weight="normal" fill="#303030" stroke="#303030" stroke-width="0.12" textLength="10.90" lengthAdjust="spacingAndGlyphs" >FPI</text>
<rect x="49.70" y="227.20" width="17.52" height="7.90" fill="#b30b35" stroke="none" stroke-width="0"/>
<line x1="66.62" y1="231.15" x2="71.45" y2="231.15" stroke="#222" stroke-width="1.0" />
<line x1="71.45" y1="229.65" x2="71.45" y2="232.65" stroke="#222" stroke-width="1.0" />
<rect x="49.70" y="238.60" width="10.87" height="8.00" fill="#2d4f8e" stroke="none" stroke-width="0"/>
<line x1="59.97" y1="242.60" x2="65.71" y2="242.60" stroke="#222" stroke-width="1.0" />
<line x1="65.71" y1="241.10" x2="65.71" y2="244.10" stroke="#222" stroke-width="1.0" />
<rect x="49.70" y="249.80" width="51.94" height="8.30" fill="#6cae3f" stroke="none" stroke-width="0"/>
<line x1="101.04" y1="253.95" x2="112.52" y2="253.95" stroke="#222" stroke-width="1.0" />
<line x1="112.52" y1="252.45" x2="112.52" y2="255.45" stroke="#222" stroke-width="1.0" />
<line x1="115.40" y1="240.60" x2="115.40" y2="254.10" stroke="#111111" stroke-width="1.0" />
<text transform="translate(123.30,244.30) rotate(-90)" x="0" y="0" font-size="5.9" text-anchor="middle" fill="#303030" stroke="#303030" stroke-width="0.12" textLength="26.30" lengthAdjust="spacingAndGlyphs">p &lt; 0.001</text>
<line x1="132.70" y1="228.10" x2="132.70" y2="254.10" stroke="#111111" stroke-width="1.0" />
<text transform="translate(139.00,241.30) rotate(-90)" x="0" y="0" font-size="5.9" text-anchor="middle" fill="#303030" stroke="#303030" stroke-width="0.12" textLength="26.30" lengthAdjust="spacingAndGlyphs">p &lt; 0.001</text>
<line x1="48.80" y1="303.20" x2="48.80" y2="343.40" stroke="#111111" stroke-width="1.3" />
<line x1="48.80" y1="340.80" x2="158.00" y2="340.80" stroke="#111111" stroke-width="1.3" />
<line x1="48.80" y1="340.80" x2="48.80" y2="343.40" stroke="#111111" stroke-width="1.3" />
<text x="48.80" y="353.70" font-size="8.2" text-anchor="middle" font-weight="normal" fill="#303030" stroke="#303030" stroke-width="0.12" >0</text>
<line x1="66.46" y1="340.80" x2="66.46" y2="343.40" stroke="#111111" stroke-width="1.3" />
<text x="66.46" y="353.70" font-size="8.2" text-anchor="middle" font-weight="normal" fill="#303030" stroke="#303030" stroke-width="0.12" >2</text>
<line x1="84.12" y1="340.80" x2="84.12" y2="343.40" stroke="#111111" stroke-width="1.3" />
<text x="84.12" y="353.70" font-size="8.2" text-anchor="middle" font-weight="normal" fill="#303030" stroke="#303030" stroke-width="0.12" >4</text>
<line x1="101.78" y1="340.80" x2="101.78" y2="343.40" stroke="#111111" stroke-width="1.3" />
<text x="101.78" y="353.70" font-size="8.2" text-anchor="middle" font-weight="normal" fill="#303030" stroke="#303030" stroke-width="0.12" >6</text>
<line x1="119.44" y1="340.80" x2="119.44" y2="343.40" stroke="#111111" stroke-width="1.3" />
<text x="119.44" y="353.70" font-size="8.2" text-anchor="middle" font-weight="normal" fill="#303030" stroke="#303030" stroke-width="0.12" >8</text>
<line x1="137.10" y1="340.80" x2="137.10" y2="343.40" stroke="#111111" stroke-width="1.3" />
<text x="137.10" y="353.70" font-size="8.2" text-anchor="middle" font-weight="normal" fill="#303030" stroke="#303030" stroke-width="0.12" >10</text>
<line x1="154.76" y1="340.80" x2="154.76" y2="343.40" stroke="#111111" stroke-width="1.3" />
<text x="154.76" y="353.70" font-size="8.2" text-anchor="middle" font-weight="normal" fill="#303030" stroke="#303030" stroke-width="0.12" >12</text>
<text x="48.80" y="297.70" font-size="7.5" text-anchor="start" font-weight="normal" fill="#303030" stroke="#303030" stroke-width="0.12" textLength="20.00" lengthAdjust="spacingAndGlyphs" >mtMV</text>
<text transform="translate(34.40,306.50) rotate(-90)" x="0" y="0" font-size="7.4" text-anchor="middle" fill="#303030" stroke="#303030" stroke-width="0.12" textLength="42.30" lengthAdjust="spacingAndGlyphs">Lactadherin</text>
<line x1="38.00" y1="305.10" x2="38.00" y2="327.70" stroke="#111111" stroke-width="1.0" />
<text x="41.50" y="312.40" font-size="8.1" text-anchor="start" font-weight="normal" fill="#303030" stroke="#303030" stroke-width="0.12" >a</text>
<text x="41.00" y="323.90" font-size="8.1" text-anchor="start" font-weight="normal" fill="#303030" stroke="#303030" stroke-width="0.12" >b</text>
<text x="46.60" y="334.90" font-size="8.1" text-anchor="end" font-weight="normal" fill="#303030" stroke="#303030" stroke-width="0.12" textLength="10.90" lengthAdjust="spacingAndGlyphs" >FPI</text>
<rect x="49.40" y="305.90" width="51.04" height="7.80" fill="#b30b35" stroke="none" stroke-width="0"/>
<line x1="99.84" y1="309.80" x2="103.99" y2="309.80" stroke="#222" stroke-width="1.0" />
<line x1="103.99" y1="308.30" x2="103.99" y2="311.30" stroke="#222" stroke-width="1.0" />
<rect x="49.40" y="316.90" width="47.42" height="8.00" fill="#2d4f8e" stroke="none" stroke-width="0"/>
<line x1="96.22" y1="320.90" x2="102.84" y2="320.90" stroke="#222" stroke-width="1.0" />
<line x1="102.84" y1="319.40" x2="102.84" y2="322.40" stroke="#222" stroke-width="1.0" />
<rect x="49.40" y="328.20" width="73.82" height="8.30" fill="#6cae3f" stroke="none" stroke-width="0"/>
<line x1="122.62" y1="332.35" x2="128.36" y2="332.35" stroke="#222" stroke-width="1.0" />
<line x1="128.36" y1="330.85" x2="128.36" y2="333.85" stroke="#222" stroke-width="1.0" />
<line x1="131.50" y1="319.40" x2="131.50" y2="333.00" stroke="#111111" stroke-width="1.0" />
<text transform="translate(139.00,323.20) rotate(-90)" x="0" y="0" font-size="5.9" text-anchor="middle" fill="#303030" stroke="#303030" stroke-width="0.12" textLength="26.30" lengthAdjust="spacingAndGlyphs">p &lt; 0.001</text>
<line x1="148.50" y1="306.90" x2="148.50" y2="332.80" stroke="#111111" stroke-width="1.0" />
<text transform="translate(155.20,320.00) rotate(-90)" x="0" y="0" font-size="5.9" text-anchor="middle" fill="#303030" stroke="#303030" stroke-width="0.12" textLength="26.30" lengthAdjust="spacingAndGlyphs">p &lt; 0.001</text>
<text x="77.70" y="366.50" font-size="8.5" text-anchor="start" font-weight="normal" fill="#303030" stroke="#303030" stroke-width="0.12" textLength="51.60" lengthAdjust="spacingAndGlyphs" >Percent positive</text>
<line x1="217.10" y1="223.30" x2="217.10" y2="340.90" stroke="#111111" stroke-width="1.3" />
<line x1="214.20" y1="340.90" x2="337.20" y2="340.90" stroke="#111111" stroke-width="1.3" />
<line x1="214.10" y1="340.90" x2="217.10" y2="340.90" stroke="#111111" stroke-width="1.3" />
<text x="211.80" y="343.85" font-size="8.3" text-anchor="end" font-weight="normal" fill="#303030" stroke="#303030" stroke-width="0.12" >20</text>
<line x1="214.10" y1="321.65" x2="217.10" y2="321.65" stroke="#111111" stroke-width="1.3" />
<text x="211.80" y="324.60" font-size="8.3" text-anchor="end" font-weight="normal" fill="#303030" stroke="#303030" stroke-width="0.12" >30</text>
<line x1="214.10" y1="302.40" x2="217.10" y2="302.40" stroke="#111111" stroke-width="1.3" />
<text x="211.80" y="305.35" font-size="8.3" text-anchor="end" font-weight="normal" fill="#303030" stroke="#303030" stroke-width="0.12" >40</text>
<line x1="214.10" y1="283.15" x2="217.10" y2="283.15" stroke="#111111" stroke-width="1.3" />
<text x="211.80" y="286.10" font-size="8.3" text-anchor="end" font-weight="normal" fill="#303030" stroke="#303030" stroke-width="0.12" >50</text>
<line x1="214.10" y1="263.90" x2="217.10" y2="263.90" stroke="#111111" stroke-width="1.3" />
<text x="211.80" y="266.85" font-size="8.3" text-anchor="end" font-weight="normal" fill="#303030" stroke="#303030" stroke-width="0.12" >60</text>
<line x1="214.10" y1="244.65" x2="217.10" y2="244.65" stroke="#111111" stroke-width="1.3" />
<text x="211.80" y="247.60" font-size="8.3" text-anchor="end" font-weight="normal" fill="#303030" stroke="#303030" stroke-width="0.12" >70</text>
<line x1="214.10" y1="225.40" x2="217.10" y2="225.40" stroke="#111111" stroke-width="1.3" />
<text x="211.80" y="228.35" font-size="8.3" text-anchor="end" font-weight="normal" fill="#303030" stroke="#303030" stroke-width="0.12" >80</text>
<text transform="translate(196.60,283.30) rotate(-90)" x="0" y="0" font-size="8.4" text-anchor="middle" fill="#303030" stroke="#303030" stroke-width="0.12" textLength="63.00" lengthAdjust="spacingAndGlyphs">Clotting time (sec.)</text>
<line x1="230.50" y1="340.90" x2="230.50" y2="343.70" stroke="#111111" stroke-width="1.3" />
<line x1="248.00" y1="340.90" x2="248.00" y2="343.70" stroke="#111111" stroke-width="1.3" />
<line x1="264.70" y1="340.90" x2="264.70" y2="343.70" stroke="#111111" stroke-width="1.3" />
<line x1="290.20" y1="340.90" x2="290.20" y2="343.70" stroke="#111111" stroke-width="1.3" />
<line x1="306.40" y1="340.90" x2="306.40" y2="343.70" stroke="#111111" stroke-width="1.3" />
<line x1="322.40" y1="340.90" x2="322.40" y2="343.70" stroke="#111111" stroke-width="1.3" />
<line x1="232.00" y1="260.00" x2="232.00" y2="284.60" stroke="#15203d" stroke-width="1.0" />
<line x1="230.20" y1="260.00" x2="233.80" y2="260.00" stroke="#15203d" stroke-width="1.1" />
<line x1="230.20" y1="284.60" x2="233.80" y2="284.60" stroke="#15203d" stroke-width="1.1" />
<rect x="227.10" y="264.60" width="9.80" height="17.40" fill="#2f5190" stroke="#1a2b55" stroke-width="0.6"/>
<line x1="227.10" y1="279.20" x2="236.90" y2="279.20" stroke="#0b1633" stroke-width="1.3" />
<line x1="249.30" y1="305.60" x2="249.30" y2="317.50" stroke="#15203d" stroke-width="1.0" />
<line x1="247.50" y1="305.60" x2="251.10" y2="305.60" stroke="#15203d" stroke-width="1.1" />
<line x1="247.50" y1="317.50" x2="251.10" y2="317.50" stroke="#15203d" stroke-width="1.1" />
<rect x="244.40" y="306.40" width="9.80" height="8.20" fill="#2f5190" stroke="#1a2b55" stroke-width="0.6"/>
<line x1="244.40" y1="308.00" x2="254.20" y2="308.00" stroke="#0b1633" stroke-width="1.3" />
<line x1="266.40" y1="252.80" x2="266.40" y2="291.50" stroke="#15203d" stroke-width="1.0" />
<line x1="264.60" y1="252.80" x2="268.20" y2="252.80" stroke="#15203d" stroke-width="1.1" />
<line x1="264.60" y1="291.50" x2="268.20" y2="291.50" stroke="#15203d" stroke-width="1.1" />
<rect x="261.50" y="256.90" width="9.80" height="30.00" fill="#2f5190" stroke="#1a2b55" stroke-width="0.6"/>
<line x1="261.50" y1="269.20" x2="271.30" y2="269.20" stroke="#0b1633" stroke-width="1.3" />
<line x1="292.10" y1="258.50" x2="292.10" y2="296.20" stroke="#15203d" stroke-width="1.0" />
<line x1="290.30" y1="258.50" x2="293.90" y2="258.50" stroke="#15203d" stroke-width="1.1" />
<line x1="290.30" y1="296.20" x2="293.90" y2="296.20" stroke="#15203d" stroke-width="1.1" />
<rect x="287.20" y="260.80" width="9.80" height="33.50" fill="#2f5190" stroke="#1a2b55" stroke-width="0.6"/>
<line x1="287.20" y1="279.20" x2="297.00" y2="279.20" stroke="#0b1633" stroke-width="1.3" />
<line x1="307.50" y1="303.10" x2="307.50" y2="319.50" stroke="#15203d" stroke-width="1.0" />
<line x1="305.70" y1="303.10" x2="309.30" y2="303.10" stroke="#15203d" stroke-width="1.1" />
<line x1="305.70" y1="319.50" x2="309.30" y2="319.50" stroke="#15203d" stroke-width="1.1" />
<rect x="302.60" y="304.90" width="9.80" height="12.30" fill="#2f5190" stroke="#1a2b55" stroke-width="0.6"/>
<line x1="302.60" y1="308.50" x2="312.40" y2="308.50" stroke="#0b1633" stroke-width="1.3" />
<line x1="324.50" y1="257.20" x2="324.50" y2="291.50" stroke="#15203d" stroke-width="1.0" />
<line x1="322.70" y1="257.20" x2="326.30" y2="257.20" stroke="#15203d" stroke-width="1.1" />
<line x1="322.70" y1="291.50" x2="326.30" y2="291.50" stroke="#15203d" stroke-width="1.1" />
<rect x="319.60" y="260.80" width="9.80" height="26.90" fill="#2f5190" stroke="#1a2b55" stroke-width="0.6"/>
<line x1="319.60" y1="271.50" x2="329.40" y2="271.50" stroke="#0b1633" stroke-width="1.3" />
<text x="225.10" y="253.30" font-size="7.5" text-anchor="start" font-weight="normal" fill="#303030" stroke="#303030" stroke-width="0.12" textLength="27.90" lengthAdjust="spacingAndGlyphs" >p &lt; 0.05</text>
<line x1="230.50" y1="254.90" x2="247.60" y2="254.90" stroke="#222" stroke-width="1.1" />
<text x="242.60" y="238.60" font-size="7.5" text-anchor="start" font-weight="normal" fill="#303030" stroke="#303030" stroke-width="0.12" textLength="27.90" lengthAdjust="spacingAndGlyphs" >p &lt; 0.05</text>
<line x1="245.60" y1="240.20" x2="267.10" y2="240.20" stroke="#222" stroke-width="1.1" />
<text x="286.90" y="253.10" font-size="7.5" text-anchor="start" font-weight="normal" fill="#303030" stroke="#303030" stroke-width="0.12" textLength="27.90" lengthAdjust="spacingAndGlyphs" >p &lt; 0.05</text>
<line x1="291.00" y1="254.80" x2="310.00" y2="254.80" stroke="#222" stroke-width="1.1" />
<text x="301.00" y="239.80" font-size="7.5" text-anchor="start" font-weight="normal" fill="#303030" stroke="#303030" stroke-width="0.12" textLength="27.90" lengthAdjust="spacingAndGlyphs" >p &lt; 0.05</text>
<line x1="305.00" y1="241.90" x2="324.80" y2="241.90" stroke="#222" stroke-width="1.1" />
<text x="216.60" y="355.60" font-size="7.4" text-anchor="end" font-weight="normal" fill="#303030" stroke="#303030" stroke-width="0.12" textLength="10.30" lengthAdjust="spacingAndGlyphs" >FPI</text>
<text x="217.10" y="366.90" font-size="7.4" text-anchor="end" font-weight="normal" fill="#303030" stroke="#303030" stroke-width="0.12" textLength="41.40" lengthAdjust="spacingAndGlyphs" >Lactadherin</text>
<text x="230.50" y="354.60" font-size="7" text-anchor="middle" font-weight="normal" fill="#333" stroke="#333" stroke-width="0.12" >-</text>
<text x="248.00" y="355.20" font-size="8" text-anchor="middle" font-weight="normal" fill="#333" stroke="#333" stroke-width="0.12" >+</text>
<text x="264.70" y="355.20" font-size="8" text-anchor="middle" font-weight="normal" fill="#333" stroke="#333" stroke-width="0.12" >+</text>
<text x="290.20" y="354.60" font-size="7" text-anchor="middle" font-weight="normal" fill="#333" stroke="#333" stroke-width="0.12" >-</text>
<text x="306.40" y="355.20" font-size="8" text-anchor="middle" font-weight="normal" fill="#333" stroke="#333" stroke-width="0.12" >+</text>
<text x="322.40" y="355.20" font-size="8" text-anchor="middle" font-weight="normal" fill="#333" stroke="#333" stroke-width="0.12" >+</text>
<text x="230.50" y="366.10" font-size="7" text-anchor="middle" font-weight="normal" fill="#333" stroke="#333" stroke-width="0.12" >-</text>
<text x="248.00" y="366.10" font-size="7" text-anchor="middle" font-weight="normal" fill="#333" stroke="#333" stroke-width="0.12" >-</text>
<text x="264.70" y="366.70" font-size="8" text-anchor="middle" font-weight="normal" fill="#333" stroke="#333" stroke-width="0.12" >+</text>
<text x="290.20" y="366.10" font-size="7" text-anchor="middle" font-weight="normal" fill="#333" stroke="#333" stroke-width="0.12" >-</text>
<text x="306.40" y="366.10" font-size="7" text-anchor="middle" font-weight="normal" fill="#333" stroke="#333" stroke-width="0.12" >-</text>
<text x="322.40" y="366.70" font-size="8" text-anchor="middle" font-weight="normal" fill="#333" stroke="#333" stroke-width="0.12" >+</text>
<path d="M226.2 369.2V371.3H269.8V369.2" fill="none" stroke="#111111" stroke-width="1.1"/>
<path d="M284.9 369.2V371.3H328.1V369.2" fill="none" stroke="#111111" stroke-width="1.1"/>
<text x="230.80" y="381.50" font-size="8.1" text-anchor="start" font-weight="normal" fill="#303030" stroke="#303030" stroke-width="0.12" textLength="31.50" lengthAdjust="spacingAndGlyphs" >3 hr post</text>
<text x="289.30" y="381.50" font-size="8.1" text-anchor="start" font-weight="normal" fill="#303030" stroke="#303030" stroke-width="0.12" textLength="31.80" lengthAdjust="spacingAndGlyphs" >6 hr post</text>
<rect x="0.5" y="0.5" width="518.6" height="388.6" fill="none" stroke="#000" stroke-width="1"/>
<line x1="519.5" y1="0" x2="519.5" y2="390" stroke="#000" stroke-width="1"/>
<line x1="0" y1="389.5" x2="520" y2="389.5" stroke="#000" stroke-width="1"/>
</svg></div>
</body></html>
